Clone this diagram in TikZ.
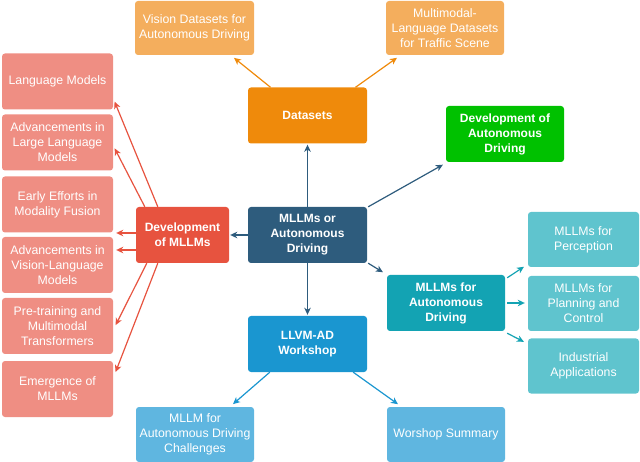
\documentclass[tikz,border=0pt]{standalone}
\usepackage{fontspec}
\setmainfont{Liberation Sans}
\usetikzlibrary{arrows.meta}
\definecolor{cdark}{HTML}{2E5C7D}
\definecolor{cred}{HTML}{E7533F}
\definecolor{clred}{HTML}{EF8E83}
\definecolor{corange}{HTML}{EF8A0B}
\definecolor{clorange}{HTML}{F4AE5D}
\definecolor{cgreen}{HTML}{00C100}
\definecolor{cteal}{HTML}{13A3B3}
\definecolor{clteal}{HTML}{5FC4CE}
\definecolor{cblue}{HTML}{1A96D0}
\definecolor{clblue}{HTML}{5FB6E0}
\begin{document}
\begin{tikzpicture}[x=1pt,y=-1pt,
  box/.style={rounded corners=3pt, align=center, inner sep=1pt, text=white,
    font=\fontsize{12.3}{15}\selectfont},
  mainbox/.style={box, minimum width=119pt, minimum height=56pt,
    font=\bfseries\fontsize{12}{15}\selectfont},
  leftleaf/.style={box, fill=clred, minimum width=111pt, minimum height=56pt},
  rightleaf/.style={box, fill=clteal, minimum width=111pt, minimum height=55pt},
  arr/.style={-{Stealth[length=7pt,width=6.5pt,inset=2pt]}, line width=1.2pt, shorten >=1pt}
]
\useasboundingbox (0,0) rectangle (640,462);

% main nodes
\node[mainbox, fill=cdark] (center) at (307.5,235) {MLLMs or\\Autonomous\\Driving};
\node[mainbox, fill=corange] (datasets) at (307.5,115.5) {Datasets};
\node[mainbox, fill=cgreen, minimum width=118pt] (green) at (505,134) {Development of\\Autonomous\\Driving};
\node[mainbox, fill=cred, minimum width=93pt] (devm) at (182.5,235) {Development\\of MLLMs};
\node[mainbox, fill=cteal, minimum width=118pt] (teal) at (446,303) {MLLMs for\\Autonomous\\Driving};
\node[mainbox, fill=cblue] (llvm) at (307.5,344) {LLVM-AD\\Workshop};

% dataset children
\node[box, fill=clorange, minimum width=119pt, minimum height=54pt] (vision) at (194.5,28) {Vision Datasets for\\Autonomous Driving};
\node[box, fill=clorange, minimum width=118pt, minimum height=54pt] (multi) at (445,28) {Multimodal-\\Language Datasets\\for Traffic Scene};

% left column
\node[leftleaf] (lm) at (57.5,81.5) {Language Models};
\node[leftleaf] (allm) at (57.5,142.5) {Advancements in\\Large Language\\Models};
\node[leftleaf] (early) at (57.5,204.5) {Early Efforts in\\Modality Fusion};
\node[leftleaf] (vlm) at (57.5,265) {Advancements in\\Vision-Language\\Models};
\node[leftleaf] (pre) at (57.5,326) {Pre-training and\\Multimodal\\Transformers};
\node[leftleaf] (emerg) at (57.5,389) {Emergence of\\MLLMs};

% right column
\node[rightleaf] (perc) at (583.5,239.5) {MLLMs for\\Perception};
\node[rightleaf] (plan) at (583.5,303.5) {MLLMs for\\Planning and\\Control};
\node[rightleaf] (ind) at (583.5,366) {Industrial\\Applications};

% bottom
\node[box, fill=clblue, minimum width=118pt, minimum height=55pt] (chal) at (195,434.5) {MLLM for\\Autonomous Driving\\Challenges};
\node[box, fill=clblue, minimum width=118pt, minimum height=55pt] (summ) at (446,434.5) {Worshop Summary};

% central arrows
\draw[arr, cdark] (center.north) -- (datasets.south);
\draw[arr, cdark] (center.west) -- (devm.east);
\draw[arr, cdark] ([xshift=1pt]center.north east) -- ([xshift=-2pt,yshift=-2pt]green.south west);
\draw[arr, cdark] ([xshift=1pt]center.south east) -- ([xshift=-3pt,yshift=2pt]teal.north west);
\draw[arr, cdark] (center.south) -- (llvm.north);

% dataset arrows
\draw[arr, corange] ([xshift=-37pt]datasets.north) -- ([xshift=-21pt,yshift=-2pt]vision.south east);
\draw[arr, corange] ([xshift=48pt]datasets.north) -- ([xshift=12pt,yshift=-2pt]multi.south west);

% red arrows
\draw[arr, cred] ([xshift=22pt]devm.north west) -- ([xshift=1pt,yshift=9pt]lm.south east);
\draw[arr, cred] ([xshift=9pt]devm.north west) -- ([xshift=1pt,yshift=-5pt]allm.east);
\draw[arr, cred] ([yshift=2pt]devm.west) -- ([yshift=2pt,xshift=2pt]devm.west -| early.east);
\draw[arr, cred] ([yshift=-15pt]devm.west) -- ([yshift=-15pt,xshift=2pt]devm.west -| vlm.east);
\draw[arr, cred] ([xshift=11pt]devm.south west) -- ([xshift=2pt]pre.east);
\draw[arr, cred] ([xshift=22pt]devm.south west) -- ([xshift=2pt,yshift=16pt]emerg.east);

% teal arrows
\draw[arr, cteal] ([xshift=2pt,yshift=-3pt]teal.north east) -- ([xshift=-3pt,yshift=1pt]perc.south west);
\draw[arr, cteal] ([xshift=2pt]teal.east) -- ([xshift=-2pt]teal.east -| plan.west);
\draw[arr, cteal] ([xshift=2pt,yshift=-2pt]teal.south east) -- ([xshift=-3pt,yshift=-4pt]ind.north west);

% workshop arrows
\draw[arr, cblue] ([xshift=22pt]llvm.south west) -- ([xshift=-22pt,yshift=2pt]chal.north east);
\draw[arr, cblue] ([xshift=-14pt]llvm.south east) -- ([xshift=12pt,yshift=2pt]summ.north west);
\end{tikzpicture}
\end{document}
